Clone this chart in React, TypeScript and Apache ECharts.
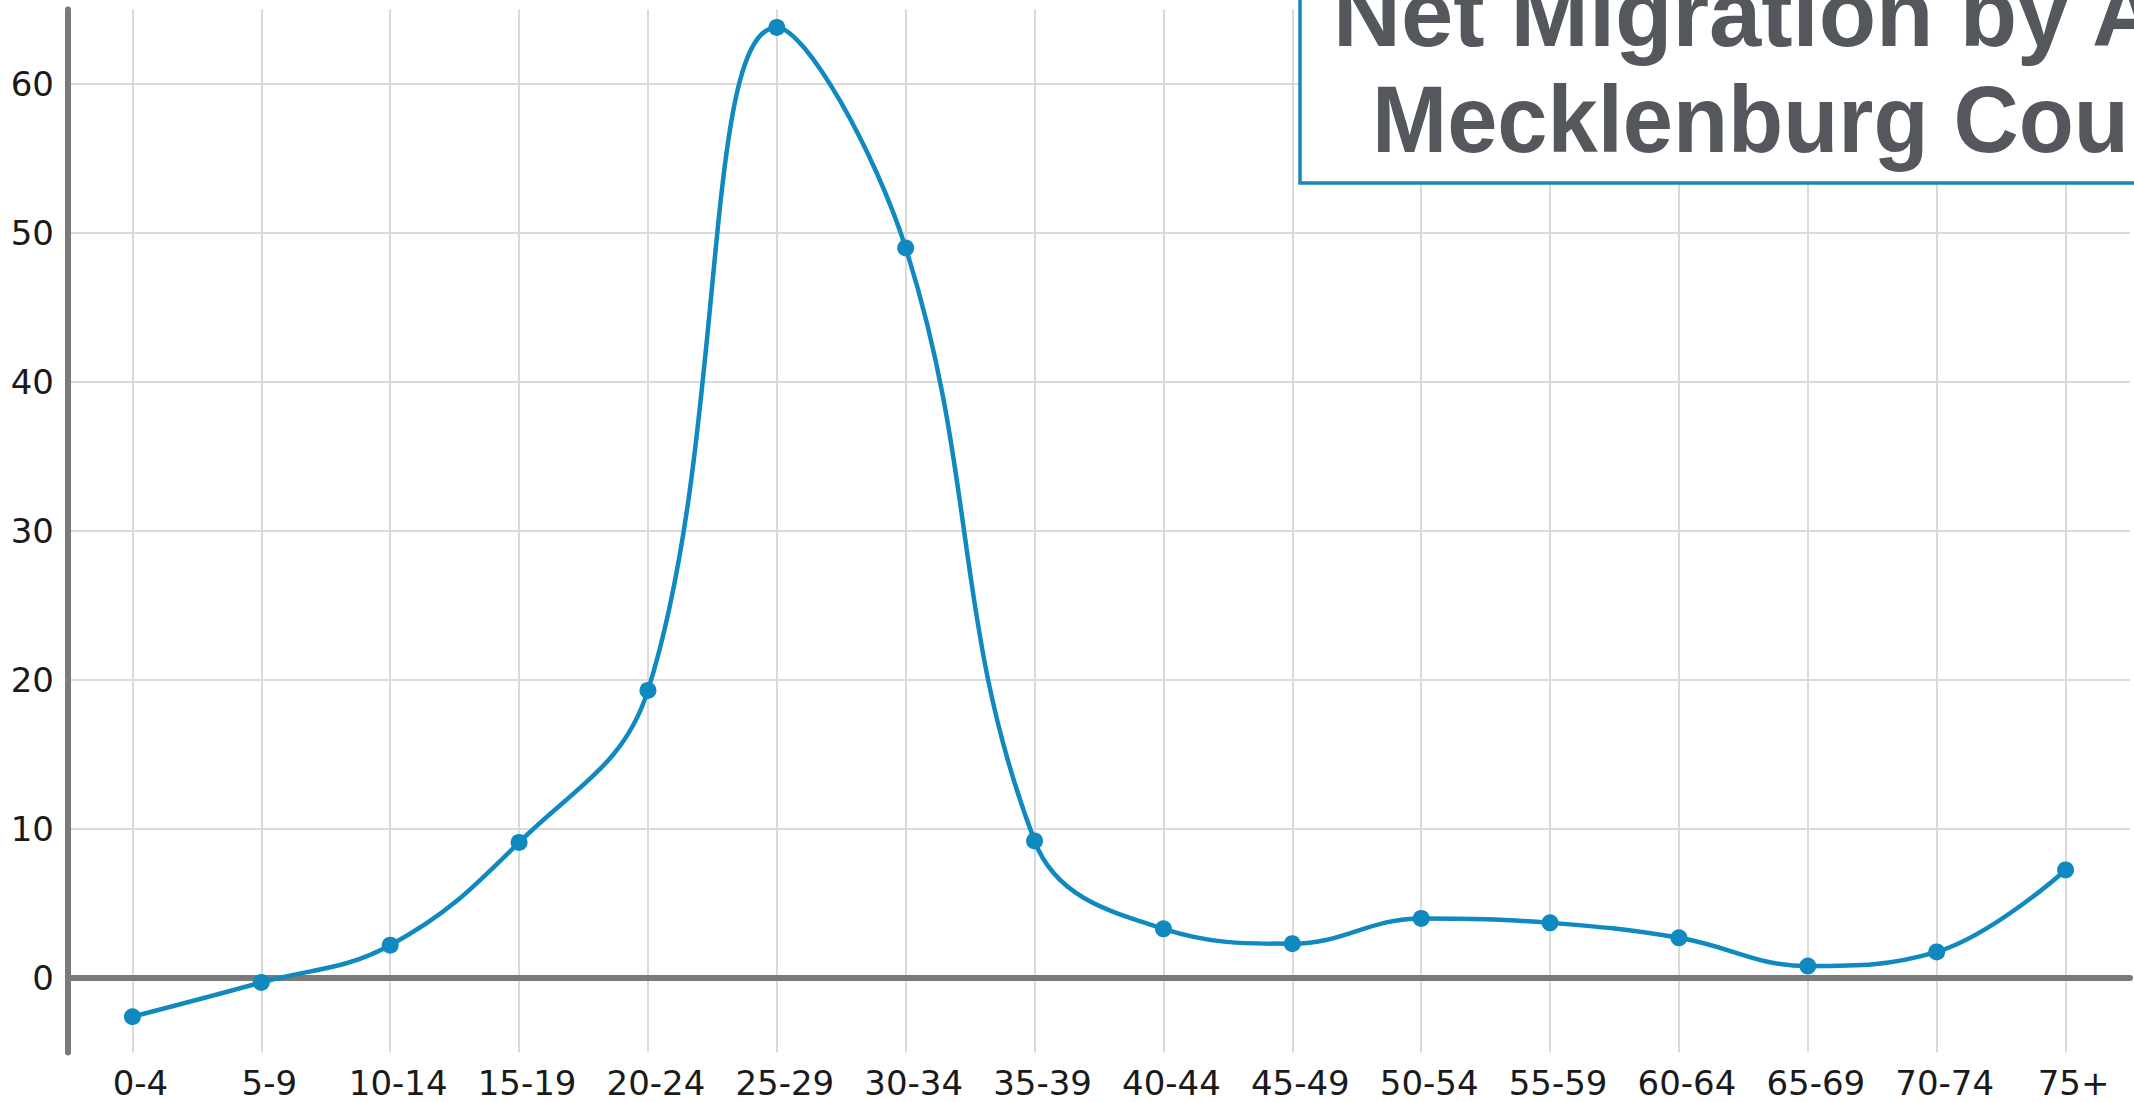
import React, { useEffect, useRef } from "react";
import * as echarts from "echarts";

const categories = [
  "0-4", "5-9", "10-14", "15-19", "20-24", "25-29", "30-34", "35-39",
  "40-44", "45-49", "50-54", "55-59", "60-64", "65-69", "70-74", "75+",
];
const netMigration = [
  -2.6, -0.3, 2.2, 9.1, 19.3, 63.8, 49.0, 9.2,
  3.3, 2.3, 4.0, 3.7, 2.7, 0.8, 1.75, 7.25,
];
const yTicks = [0, 10, 20, 30, 40, 50, 60];
const titleLine1 = "Net Migration by Age";
const titleLine2 = "Mecklenburg County";

const AXIS_GREY = "#7a7a7a";
const GRID_GREY = "#dadada";
const LINE_BLUE = "#0f89bf";
const LABEL_FONT = "'DejaVu Sans', Verdana, sans-serif";
const TITLE_FONT = "'Liberation Sans', Arial, sans-serif";

export default function App() {
  const ref = useRef<HTMLDivElement>(null);

  useEffect(() => {
    document.body.style.margin = "0";
    const chart = echarts.init(ref.current!, null, { renderer: "svg" });
    chart.setOption({
      animation: false,
      backgroundColor: "#ffffff",
      grid: { left: 68, right: 4, top: 9.5, bottom: 49.5, containLabel: false },
      xAxis: {
        type: "category",
        data: categories,
        boundaryGap: true,
        axisLine: { show: true, lineStyle: { color: AXIS_GREY, width: 6 } },
        axisTick: { show: false, alignWithLabel: true },
        axisLabel: {
          interval: 0,
          margin: 14,
          lineHeight: 32,
          padding: [0, 0, 0, 16],
          color: "#1a1a1a",
          fontFamily: LABEL_FONT,
          fontSize: 34,
        },
        splitLine: {
          show: true,
          interval: 0,
          alignWithLabel: true,
          lineStyle: { color: GRID_GREY, width: 2 },
        },
      },
      yAxis: {
        type: "value",
        min: -5,
        max: 65,
        axisLine: { show: true, lineStyle: { color: AXIS_GREY, width: 6 } },
        axisTick: { show: false, customValues: yTicks },
        axisLabel: {
          customValues: yTicks,
          margin: 14,
          color: "#1a1a1a",
          fontFamily: LABEL_FONT,
          fontSize: 34,
        },
        splitLine: { show: true, lineStyle: { color: GRID_GREY, width: 2 } },
      },
      series: [
        {
          type: "line",
          data: netMigration,
          smooth: 0.4,
          symbol: "circle",
          symbolSize: 17,
          itemStyle: { color: LINE_BLUE },
          lineStyle: { color: LINE_BLUE, width: 4.5 },
          z: 5,
          markLine: {
            silent: true,
            symbol: "none",
            label: { show: false },
            lineStyle: { color: AXIS_GREY, width: 4.5, type: "solid" },
            data: [{ yAxis: 0 }],
            z: 3,
          },
        },
      ],
      graphic: [
        {
          type: "rect",
          z: 100,
          shape: { x: 1300, y: -10, width: 1000, height: 193 },
          style: { fill: "#ffffff", stroke: "#1a86b9", lineWidth: 3.5 },
        },
        {
          type: "text",
          z: 101,
          x: 1333,
          y: 13.5,
          scaleX: 1.0,
          style: {
            text: titleLine1,
            fill: "#54575c",
            font: `bold 94px ${TITLE_FONT}`,
            textAlign: "left",
            textVerticalAlign: "middle",
          },
        },
        {
          type: "text",
          z: 101,
          x: 1372,
          y: 119.5,
          scaleX: 0.96,
          style: {
            text: titleLine2,
            fill: "#54575c",
            font: `bold 94px ${TITLE_FONT}`,
            textAlign: "left",
            textVerticalAlign: "middle",
          },
        },
      ],
    });
    return () => chart.dispose();
  }, []);

  return (
    <div
      ref={ref}
      style={{ position: "absolute", left: 0, top: 0, width: 2134, height: 1102 }}
    />
  );
}
